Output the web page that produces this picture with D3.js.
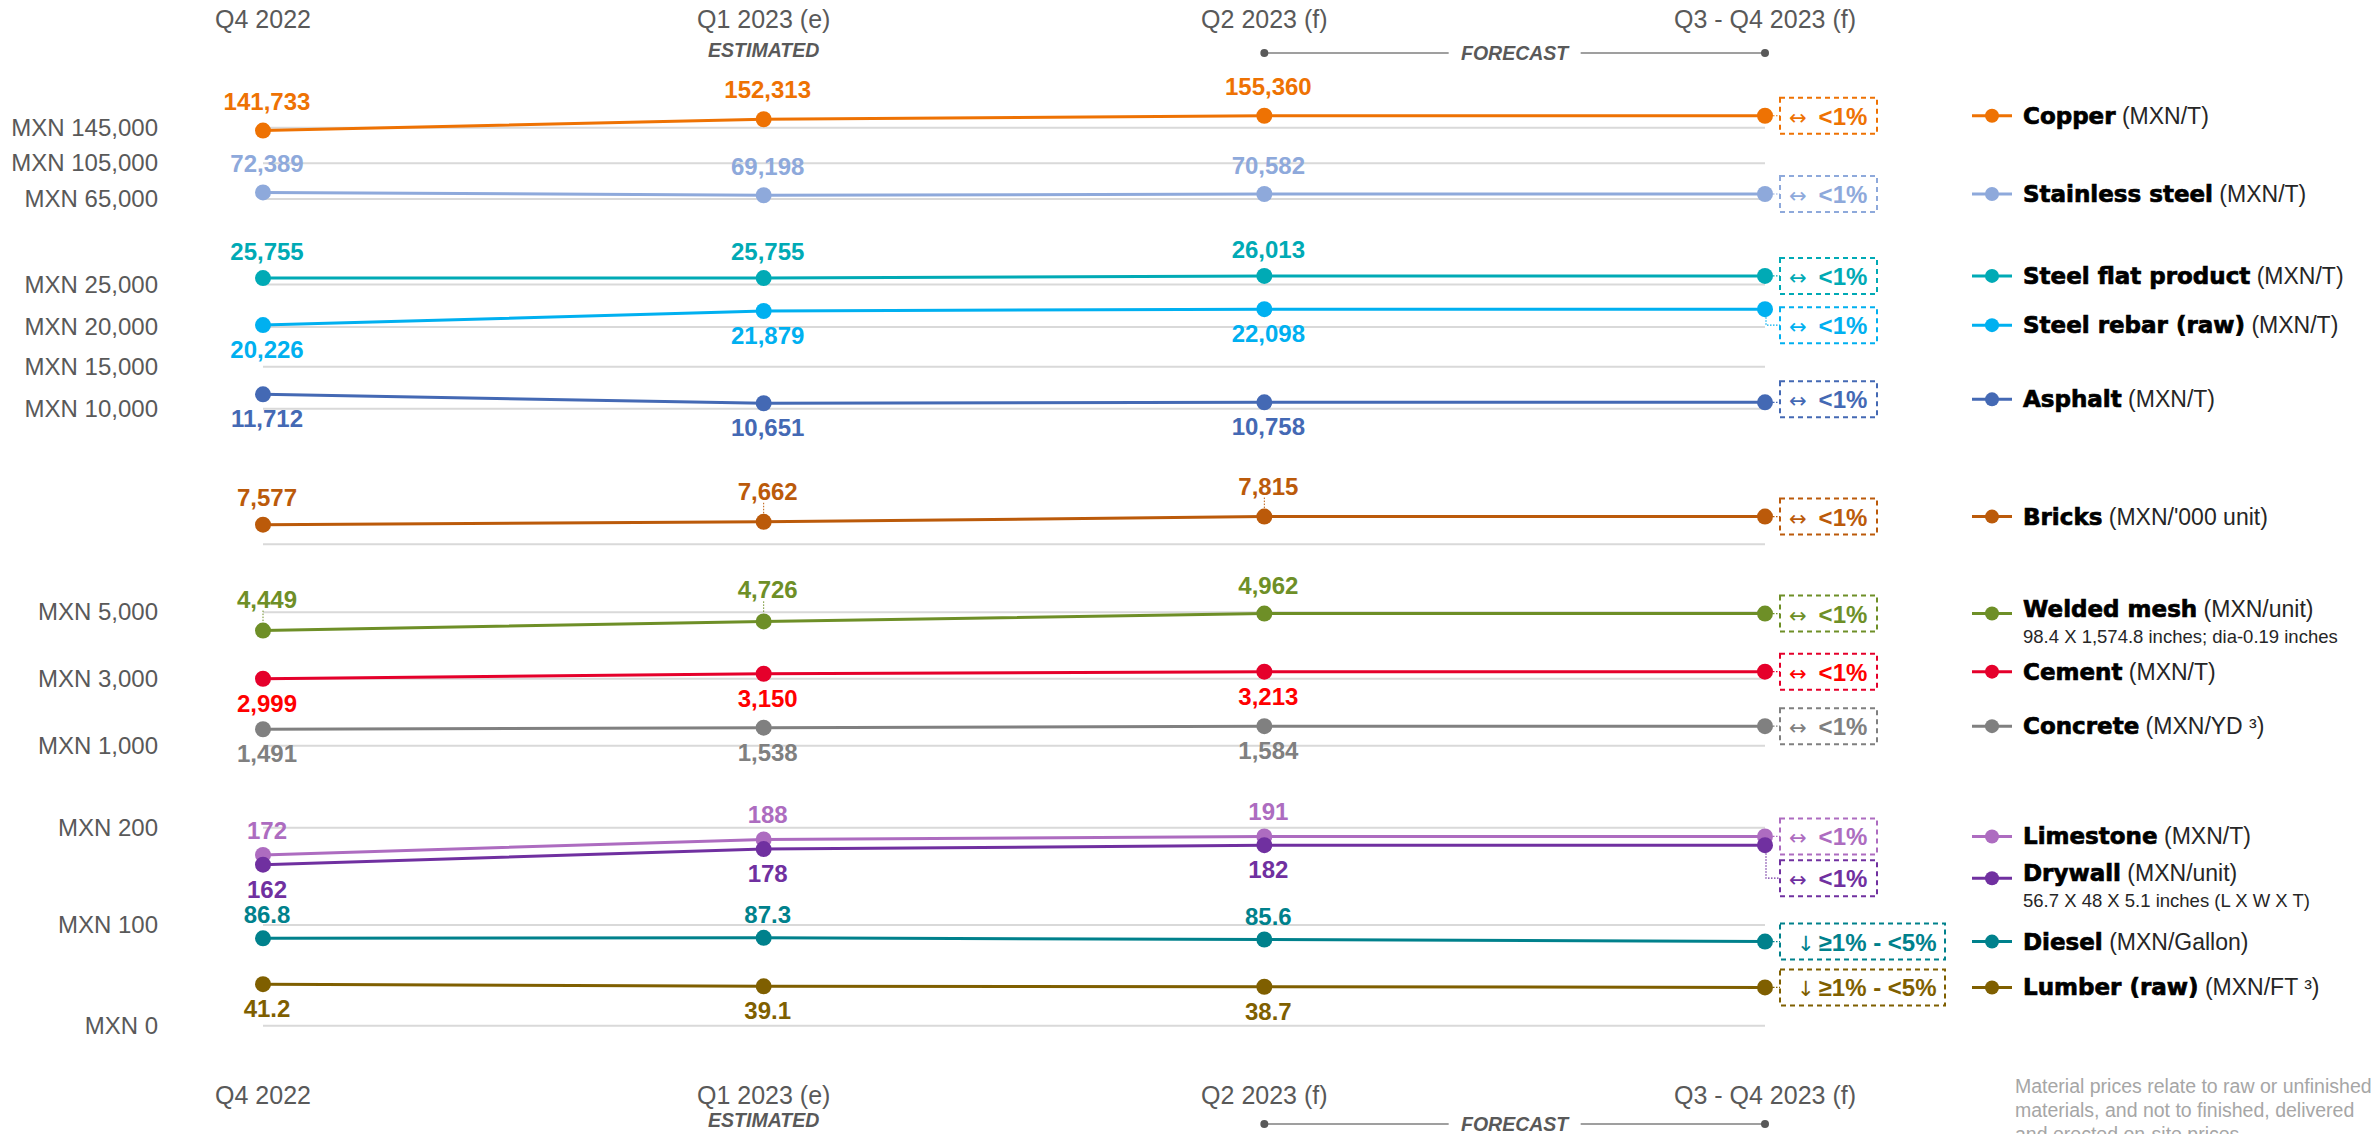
<!DOCTYPE html>
<html>
<head>
<meta charset="utf-8">
<script src="https://cdn.jsdelivr.net/npm/d3@7"></script>
<style>
  body { margin: 0; background: #fff; }
  svg { display: block; font-family: "Liberation Sans", Arial, sans-serif; }
</style>
</head>
<body>
<svg id="chart" width="2376" height="1134"></svg>
<script>
// ---- data ----
var periods = ["Q4 2022", "Q1 2023 (e)", "Q2 2023 (f)", "Q3 - Q4 2023 (f)"];

var materials = ["Copper", "Stainless steel", "Steel flat product", "Steel rebar (raw)", "Asphalt",
  "Bricks", "Welded mesh", "Cement", "Concrete", "Limestone", "Drywall", "Diesel", "Lumber (raw)"];
var units = ["(MXN/T)", "(MXN/T)", "(MXN/T)", "(MXN/T)", "(MXN/T)", "(MXN/'000 unit)", "(MXN/unit)",
  "(MXN/T)", "(MXN/YD \u00B3)", "(MXN/T)", "(MXN/unit)", "(MXN/Gallon)", "(MXN/FT \u00B3)"];
var notes = ["", "", "", "", "", "", "98.4 X 1,574.8 inches;  dia-0.19 inches", "", "", "",
  "56.7 X 48 X 5.1 inches (L X W X T)", "", ""];

var copper     = [141733, 152313, 155360, 155360];
var stainless  = [72389, 69198, 70582, 70582];
var steelFlat  = [25755, 25755, 26013, 26013];
var steelRebar = [20226, 21879, 22098, 22098];
var asphalt    = [11712, 10651, 10758, 10758];
var bricks     = [7577, 7662, 7815, 7815];
var weldedMesh = [4449, 4726, 4962, 4962];
var cement     = [2999, 3150, 3213, 3213];
var concrete   = [1491, 1538, 1584, 1584];
var limestone  = [172, 188, 191, 191];
var drywall    = [162, 178, 182, 182];
var diesel     = [86.8, 87.3, 85.6, 83.5];
var lumber     = [41.2, 39.1, 38.7, 38.0];
var values = [copper, stainless, steelFlat, steelRebar, asphalt, bricks, weldedMesh,
  cement, concrete, limestone, drywall, diesel, lumber];

var trendArrow = ["\u2194", "\u2194", "\u2194", "\u2194", "\u2194", "\u2194", "\u2194",
  "\u2194", "\u2194", "\u2194", "\u2194", "\u2193", "\u2193"];
var trendRange = ["<1%", "<1%", "<1%", "<1%", "<1%", "<1%", "<1%", "<1%", "<1%", "<1%", "<1%",
  "\u22651% - <5%", "\u22651% - <5%"];

var yTicks      = [145000, 105000, 65000, 25000, 20000, 15000, 10000, 7000, 5000, 3000, 1000, 200, 100, 0];
var yTickLabels = ["MXN 145,000", "MXN 105,000", "MXN 65,000", "MXN 25,000", "MXN 20,000", "MXN 15,000",
  "MXN 10,000", "", "MXN 5,000", "MXN 3,000", "MXN 1,000", "MXN 200", "MXN 100", "MXN 0"];

var footnote = ["Material prices relate to raw or unfinished", "materials, and not to finished, delivered",
  "and erected on-site prices."];

// ---- layout / style ----
var colors = ["#EE7203", "#8EA9DB", "#00AAB5", "#00B0F0", "#4469B4", "#BB5A0A", "#6E8F27",
  "#E5002B", "#808080", "#AD6CC0", "#7030A0", "#00818C", "#7F5F00"];
var labelColors = colors.slice();
labelColors[7] = "#FF0000";
// broken axis: value -> pixel row (hidden knots at 8,000, 30,000 and 160,000)
var axisKnots = [[0, 1025.7], [100, 925], [200, 827.7], [1000, 745.7], [3000, 678.7], [5000, 612.3],
  [7000, 544.3], [8000, 510.3], [10000, 408.7], [15000, 366.8], [20000, 327], [25000, 284.5],
  [30000, 242], [65000, 199], [105000, 163.3], [145000, 127.7], [160000, 110.4]];
var labelBelow = [false, false, false, true, true, false, false, true, true, false, true, false, true];
var aboveGap = [21, 20, 18, 0, 0, 19, 20, 0, 0, 16, 0, 15, 0];
var boxNudge = [0, 0, 0, 16, -3, 0, 0, 0, 0, 0, 33, 0, 0];
var leaders = [[5, 1], [5, 2], [6, 0], [6, 1]];

var svg = d3.select("#chart");
var x = d3.scalePoint().domain(periods).range([263, 1765]);
var y = d3.scaleLinear().domain(axisKnots.map(function(k) { return k[0]; }))
  .range(axisKnots.map(function(k) { return k[1]; }));

var fmt = function(v) {
  if (v >= 1000) return d3.format(",")(v);
  return Number.isInteger(v) ? String(v) : d3.format(".1f")(v);
};

// gridlines + tick labels
var grid = svg.append("g");
yTicks.forEach(function(t, i) {
  grid.append("line")
    .attr("x1", x(periods[0])).attr("x2", x(periods[3]))
    .attr("y1", y(t)).attr("y2", y(t))
    .attr("stroke", "#D9D9D9").attr("stroke-width", 2);
  if (yTickLabels[i]) {
    grid.append("text")
      .attr("x", 158).attr("y", y(t) + 8)
      .attr("text-anchor", "end")
      .attr("font-size", 24).attr("fill", "#595959")
      .text(yTickLabels[i]);
  }
});

// period axis (top and bottom)
function periodAxis(base, markY, textY) {
  var g = svg.append("g");
  periods.forEach(function(p) {
    g.append("text").attr("x", x(p)).attr("y", base)
      .attr("text-anchor", "middle").attr("font-size", 25).attr("fill", "#595959").text(p);
  });
  g.append("text").attr("x", x(periods[1])).attr("y", textY)
    .attr("text-anchor", "middle").attr("font-size", 19.5).attr("font-weight", "bold")
    .attr("font-style", "italic").attr("fill", "#595959").text("ESTIMATED");
  var x0 = x(periods[2]), x1 = x(periods[3]), xm = (x0 + x1) / 2;
  g.append("line").attr("x1", x0).attr("x2", xm - 66).attr("y1", markY).attr("y2", markY)
    .attr("stroke", "#7F7F7F").attr("stroke-width", 1.5);
  g.append("line").attr("x1", xm + 66).attr("x2", x1).attr("y1", markY).attr("y2", markY)
    .attr("stroke", "#7F7F7F").attr("stroke-width", 1.5);
  [x0, x1].forEach(function(cx) {
    g.append("circle").attr("cx", cx).attr("cy", markY).attr("r", 4).attr("fill", "#595959");
  });
  g.append("text").attr("x", xm).attr("y", markY + 7)
    .attr("text-anchor", "middle").attr("font-size", 19.5).attr("font-weight", "bold")
    .attr("font-style", "italic").attr("fill", "#595959").text("FORECAST");
}
periodAxis(28, 53, 57);
periodAxis(1104, 1124, 1127);

// series
var line = d3.line().x(function(d, i) { return x(periods[i]); }).y(function(d) { return y(d); });

values.forEach(function(vals, s) {
  var g = svg.append("g");
  var c = colors[s];
  g.append("path").attr("d", line(vals)).attr("fill", "none")
    .attr("stroke", c).attr("stroke-width", 3);
  g.selectAll("circle").data(vals).enter().append("circle")
    .attr("cx", function(d, i) { return x(periods[i]); })
    .attr("cy", function(d) { return y(d); })
    .attr("r", 8).attr("fill", c);

  // value labels on the first three periods
  vals.slice(0, 3).forEach(function(v, i) {
    var px = x(periods[i]), py = y(v);
    var lead = leaders.some(function(l) { return l[0] === s && l[1] === i; });
    var ly = labelBelow[s] ? py + 33 : py - aboveGap[s] - (lead ? 3 : 0);
    g.append("text").attr("x", px + 4).attr("y", ly)
      .attr("text-anchor", "middle").attr("font-size", 24).attr("font-weight", "bold")
      .attr("fill", labelColors[s]).text(fmt(v));
    if (lead) {
      g.append("line").attr("x1", px).attr("x2", px).attr("y1", ly + 3).attr("y2", py - 8)
        .attr("stroke", c).attr("stroke-width", 1).attr("stroke-dasharray", "1.5,1.5");
    }
  });

  // trend box
  var last = vals[3], py = y(last), by = py + boxNudge[s];
  var wide = trendRange[s].length > 4;
  var bx = 1780, bw = wide ? 165 : 97, bh = 36;
  g.append("rect").attr("x", bx).attr("y", by - bh / 2).attr("width", bw).attr("height", bh)
    .attr("fill", "none").attr("stroke", c).attr("stroke-width", 2).attr("stroke-dasharray", "5,4");
  if (boxNudge[s] > 8) {
    g.append("path").attr("d", "M" + (x(periods[3]) + 1) + "," + (py + 8) + "V" + by + "H" + bx)
      .attr("fill", "none").attr("stroke", c).attr("stroke-width", 1.2).attr("stroke-dasharray", "1.5,1.5");
  } else {
    g.append("line").attr("x1", x(periods[3]) + 8).attr("x2", bx).attr("y1", py).attr("y2", py)
      .attr("stroke", c).attr("stroke-width", 1.2).attr("stroke-dasharray", "1.5,1.5");
  }
  var tt = g.append("text").attr("x", bx + (wide ? 17 : 9)).attr("y", by + 9).attr("fill", labelColors[s]);
  tt.append("tspan").attr("font-family", "'DejaVu Sans', sans-serif").attr("font-size", 21)
    .text(trendArrow[s]);
  tt.append("tspan").attr("dx", wide ? 4 : 12).attr("font-size", 24).attr("font-weight", "bold")
    .text(trendRange[s]);

  // legend entry
  var lg = svg.append("g").attr("transform", "translate(0," + by + ")");
  lg.append("line").attr("x1", 1972).attr("x2", 2012).attr("y1", 0).attr("y2", 0)
    .attr("stroke", c).attr("stroke-width", 3);
  lg.append("circle").attr("cx", 1992).attr("cy", 0).attr("r", 7).attr("fill", c);
  var hasNote = notes[s] !== "";
  var lt = lg.append("text").attr("x", 2023).attr("y", hasNote ? 3 : 8).attr("font-size", 23);
  lt.append("tspan").attr("font-family", "'DejaVu Sans', sans-serif").attr("font-weight", "bold")
    .attr("fill", "#000").attr("stroke", "#000").attr("stroke-width", 0.7).text(materials[s]);
  lt.append("tspan").attr("fill", "#262626").text(" " + units[s]);
  if (hasNote) {
    lg.append("text").attr("x", 2023).attr("y", 29).attr("font-size", 18.5)
      .attr("fill", "#262626").text(notes[s]);
  }
});

// footnote
svg.append("g").selectAll("text").data(footnote).enter().append("text")
  .attr("x", 2015).attr("y", function(d, i) { return 1093 + i * 24; })
  .attr("font-size", 19.5).attr("fill", "#A6A6A6").text(function(d) { return d; });
</script>
</body>
</html>
